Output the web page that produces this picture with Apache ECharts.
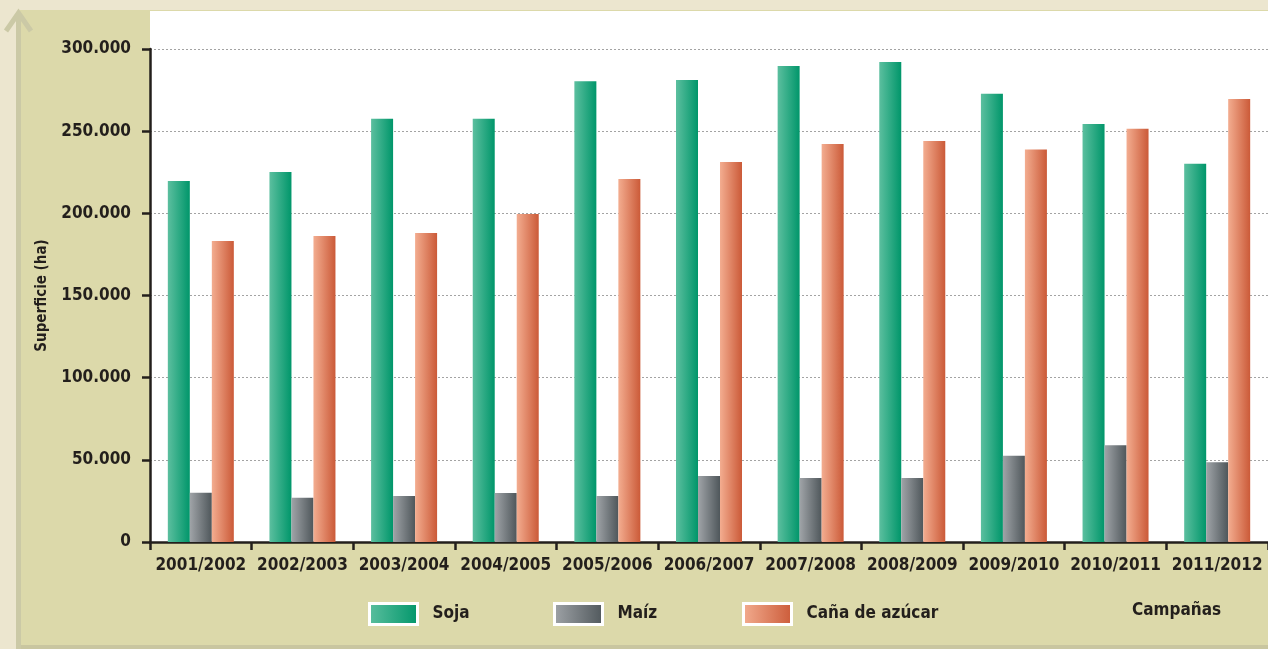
<!DOCTYPE html>
<html><head><meta charset="utf-8">
<script src="https://cdn.jsdelivr.net/npm/echarts@6/dist/echarts.min.js"></script>
<style>html,body{margin:0;padding:0;background:#ece6cf;}#c{width:1268px;height:649px;}</style>
</head><body><div id="c"></div>
<script>
const categories = ['2001/2002','2002/2003','2003/2004','2004/2005','2005/2006','2006/2007','2007/2008','2008/2009','2009/2010','2010/2011','2011/2012'];
const soja = [219700, 225200, 257500, 257500, 280400, 281200, 289700, 292100, 272700, 254400, 230100];
const maiz = [30000, 27000, 28000, 29800, 28000, 40200, 39000, 39000, 52500, 58800, 48500];
const cana = [183200, 186200, 188100, 199600, 220900, 231300, 242200, 244000, 238800, 251400, 269600];
const yTicks = [0, 50000, 100000, 150000, 200000, 250000, 300000];

const FONT = '"DejaVu Sans Condensed", "DejaVu Sans", sans-serif';
function fmt(v){ return String(v).replace(/\B(?=(\d{3})+(?!\d))/g, '.'); }
function grad(a,b){ return new echarts.graphic.LinearGradient(0,0,1,0,[{offset:0,color:a},{offset:1,color:b}]); }
const cSoja = grad('#5cbf9f','#00966a');
const cMaiz = grad('#a0a4a8','#4f575b');
const cCana = grad('#f3ad90','#cb5a38');

const chart = echarts.init(document.getElementById('c'));
const legendBase = {
  orient:'horizontal', itemWidth:48, itemHeight:21, itemGap:0,
  icon:'rect',
  itemStyle:{borderColor:'#ffffff', borderWidth:3},
  textStyle:{fontFamily:FONT, fontSize:17, fontWeight:'bold', color:'#231f1c', padding:[0,0,0,10]},
  top:597
};
chart.setOption({
  backgroundColor:'#ece6cf',
  animation:false,
  graphic:[
    {type:'rect', z:-10, shape:{x:20,y:10,width:1250,height:636}, style:{fill:'#dcd9aa'}},
    {type:'rect', z:-10, shape:{x:20,y:645,width:1250,height:4}, style:{fill:'#c9c6a0'}},
    {type:'rect', z:-10, shape:{x:16,y:14,width:5,height:640}, style:{fill:'#cbc9a6'}},
    {type:'polyline', z:-10, shape:{points:[[6,31],[18.5,13],[31,31]]}, style:{stroke:'#cbc9a6', lineWidth:5, fill:null}},
    {type:'rect', z:-5, shape:{x:150,y:11,width:1118,height:40}, style:{fill:'#ffffff'}}
  ],
  title:{text:'Campañas', left:1132, top:602, padding:0, textStyle:{fontFamily:FONT, fontSize:17, fontWeight:'bold', color:'#231f1c'}},
  legend:[
    Object.assign({}, legendBase, {left:363, data:['Soja']}),
    Object.assign({}, legendBase, {left:548, data:['Maíz']}),
    Object.assign({}, legendBase, {left:737, data:['Caña de azúcar']})
  ],
  grid:{left:150, right:0, top:49, bottom:107, show:true, backgroundColor:'#ffffff', borderWidth:0},
  xAxis:{
    type:'category', data:categories,
    axisLine:{lineStyle:{color:'#231f1c', width:2.5}},
    axisTick:{show:true, length:8, lineStyle:{color:'#231f1c', width:2.5}},
    axisLabel:{fontFamily:FONT, fontSize:17, fontWeight:'bold', color:'#231f1c', margin:15, interval:0}
  },
  yAxis:{
    type:'value', min:0, max:300000, interval:50000,
    name:'Superficie (ha)', nameLocation:'middle', nameGap:100,
    nameTextStyle:{fontFamily:FONT, fontSize:15, fontWeight:'bold', color:'#231f1c'},
    axisLine:{show:true, lineStyle:{color:'#231f1c', width:2.5}},
    axisTick:{show:true, length:8, lineStyle:{color:'#231f1c', width:2.5}},
    axisLabel:{fontFamily:FONT, fontSize:17, fontWeight:'bold', color:'#231f1c', margin:19,
      formatter:function(v){ return yTicks.indexOf(v) >= 0 ? fmt(v) : ''; }},
    splitLine:{show:true, lineStyle:{color:'#a3a3a3', type:[2,2], width:1}}
  },
  series:[
    {name:'Soja', type:'bar', data:soja, barWidth:22, barGap:'0%', itemStyle:{color:cSoja}},
    {name:'Maíz', type:'bar', data:maiz, barWidth:22, barGap:'0%', itemStyle:{color:cMaiz}},
    {name:'Caña de azúcar', type:'bar', data:cana, barWidth:22, barGap:'0%', itemStyle:{color:cCana}}
  ]
});
</script></body></html>
